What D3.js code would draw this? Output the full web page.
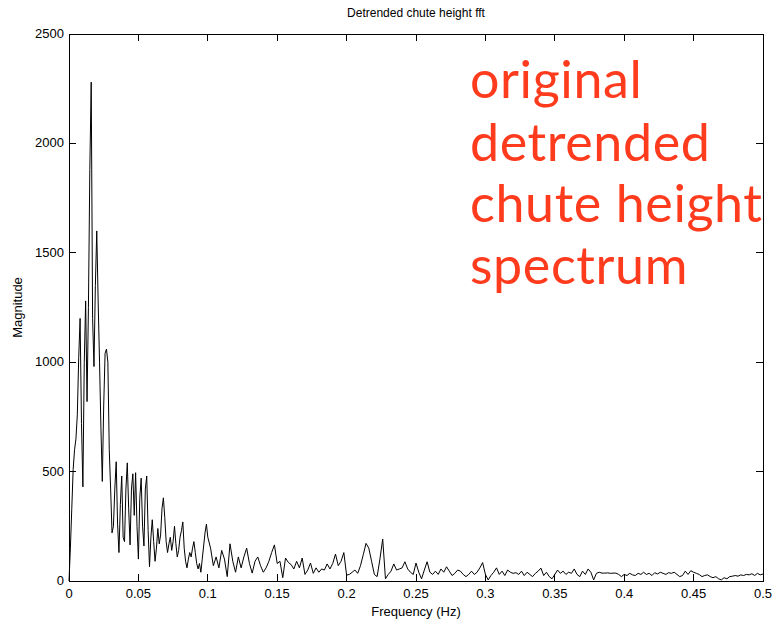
<!DOCTYPE html>
<html><head><meta charset="utf-8">
<script src="https://cdn.jsdelivr.net/npm/d3@7"></script>
<style>body{margin:0;background:#fff}svg{display:block}</style>
</head><body>
<svg id="chart" width="776" height="624"></svg>
<script>
// Data
const lowBandStart = 0.0, lowBandStep = 0.001;
const lowBandMagnitude = [
0,150,330,510,600,650,760,1020,1200,720,
430,1000,1280,820,1250,1880,2280,1200,980,1350,
1600,1280,1000,700,455,800,1040,1060,1000,600,
420,220,250,420,545,260,130,350,480,200,
180,420,540,330,165,420,490,300,495,250,
100,380,470,250,160,420,480,230,65,200,
280,180,90,150,240,170,210,330,380,290,
180,130,170,200,140,180,250,170,110,140,
200,230,270,150,90,60,100,130,110,150,
180,130,80,55,80,40,100,160,220,260,
200];
const highBandStart = 0.102, highBandStep = 0.002;
const highBandMagnitude = [
150,70,110,60,140,100,20,170,90,40,
110,60,110,150,80,36,90,110,70,40,
60,90,130,165,80,90,15,105,85,75,
55,90,60,105,30,50,82,35,60,40,
55,50,78,55,80,123,70,90,130,27,
30,40,50,35,70,120,172,150,90,30,
20,100,192,10,30,45,78,50,55,60,
88,55,40,30,82,40,10,50,88,40,
30,45,30,55,40,65,45,25,35,50,
45,30,20,30,45,30,40,60,84,30,
5,25,40,60,30,45,25,50,40,35,
38,30,45,25,40,30,20,35,45,59,
25,40,20,10,30,50,35,45,30,40,
35,55,30,20,45,30,55,40,5,35,
40,36,36,37,35,36,36,30,20,30,
25,35,28,25,35,30,40,30,35,25,
38,32,40,35,30,38,35,40,30,20,
25,45,30,47,40,35,30,20,25,28,
20,15,20,10,5,15,10,20,22,25,
22,28,25,30,28,33,25,35,28,32];
const xTicks = [0,0.05,0.1,0.15,0.2,0.25,0.3,0.35,0.4,0.45,0.5];
const xTickLabels = ["0","0.05","0.1","0.15","0.2","0.25","0.3","0.35","0.4","0.45","0.5"];
const yTicks = [0,500,1000,1500,2000,2500];
const yTickLabels = ["0","500","1000","1500","2000","2500"];
const titleText = "Detrended chute height fft";
const xLabelText = "Frequency (Hz)";
const yLabelText = "Magnitude";
const annotationLines = ["original","detrended","chute height","spectrum"];

const points = [];
lowBandMagnitude.forEach((m,i)=>points.push([lowBandStart+i*lowBandStep, m]));
highBandMagnitude.forEach((m,i)=>points.push([highBandStart+i*highBandStep, m]));

const svg = d3.select("#chart");
const L=69, R=763, T=34, B=581;
const x = d3.scaleLinear().domain([0,0.5]).range([L,R]);
const y = d3.scaleLinear().domain([0,2500]).range([B,T]);
const font = "Liberation Sans, Arial, Helvetica, sans-serif";

// frame
svg.append("rect").attr("x",L).attr("y",T).attr("width",R-L).attr("height",B-T)
  .attr("fill","none").attr("stroke","#000").attr("stroke-width",1).attr("shape-rendering","crispEdges");

const tl = 7;
const g = svg.append("g").attr("stroke","#000").attr("stroke-width",1).attr("shape-rendering","crispEdges");
xTicks.forEach(v=>{
  g.append("line").attr("x1",x(v)).attr("x2",x(v)).attr("y1",B).attr("y2",B-tl);
  g.append("line").attr("x1",x(v)).attr("x2",x(v)).attr("y1",T).attr("y2",T+tl);
});
yTicks.forEach(v=>{
  g.append("line").attr("x1",L).attr("x2",L+tl).attr("y1",y(v)).attr("y2",y(v));
  g.append("line").attr("x1",R).attr("x2",R-tl).attr("y1",y(v)).attr("y2",y(v));
});

xTicks.forEach((v,i)=>{
  svg.append("text").attr("x",x(v)).attr("y",B+17).attr("text-anchor","middle")
    .attr("font-family",font).attr("font-size",13).text(xTickLabels[i]);
});
yTicks.forEach((v,i)=>{
  svg.append("text").attr("x",L-5).attr("y",y(v)+4).attr("text-anchor","end")
    .attr("font-family",font).attr("font-size",13).text(yTickLabels[i]);
});

// data line
const line = d3.line().x(d=>x(d[0])).y(d=>y(d[1]));
svg.append("path").datum(points).attr("d",line).attr("fill","none")
  .attr("stroke","#000").attr("stroke-width",1);

// labels
svg.append("text").attr("x",(L+R)/2).attr("y",17).attr("text-anchor","middle")
  .attr("font-family",font).attr("font-size",12).text(titleText);
svg.append("text").attr("x",(L+R)/2).attr("y",616).attr("text-anchor","middle")
  .attr("font-family",font).attr("font-size",13).text(xLabelText);
svg.append("text").attr("transform",`translate(22,${(T+B)/2}) rotate(-90)`).attr("text-anchor","middle")
  .attr("font-family",font).attr("font-size",13).text(yLabelText);

// annotation
const baselines = [98,161,222,284];
annotationLines.forEach((t,i)=>{
  svg.append("text").attr("x",470).attr("y",baselines[i])
    .attr("font-family","Lato, 'Open Sans', sans-serif").attr("font-size",52)
    .attr("letter-spacing",0.6)
    .attr("fill","#ff3b1e").text(t);
});
</script>
</body></html>
